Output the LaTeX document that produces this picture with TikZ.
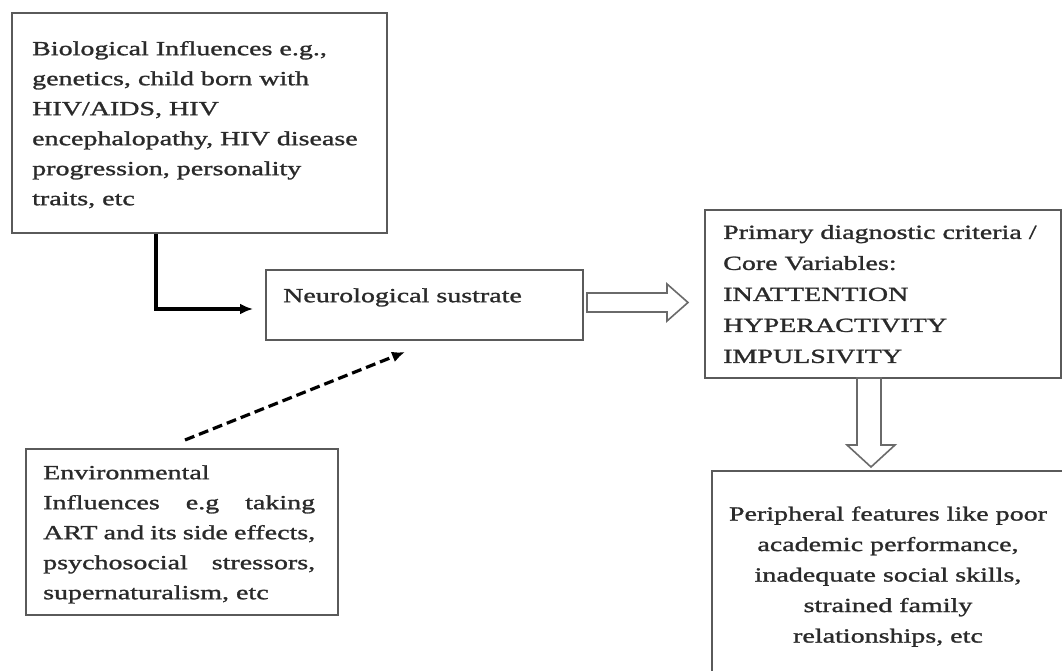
\documentclass[tikz,border=0pt]{standalone}
\usepackage{fontspec}
\setmainfont{Liberation Serif}[FakeStretch=1.4,FakeBold=1.3]
\usetikzlibrary{arrows.meta}
\definecolor{boxgray}{HTML}{5A5A5A}
\definecolor{txtgray}{HTML}{2A2A2A}
\definecolor{arrgray}{HTML}{6A6A6A}
\begin{document}
\begin{tikzpicture}[x=1pt,y=-1pt,
  box/.style={draw=boxgray, line width=2pt, inner sep=0pt, anchor=north west},
  txt/.style={inner sep=0pt, anchor=north west, align=left, text=txtgray,
    font=\fontsize{20}{30}\selectfont},
  conn/.style={line width=3.2pt, black, -{Latex[length=13pt,width=11pt]}},
  hollow/.style={draw=arrgray, line width=1.6pt, fill=white, line join=miter}]
\useasboundingbox (0,0) rectangle (1062,671);
\fill[white] (0,0) rectangle (1062,671);
\clip (0,0) rectangle (1062,671);

% boxes
\node[box, minimum width=375pt, minimum height=220pt] (bio) at (11,12) {};
\node[box, minimum width=317pt, minimum height=70pt] (neuro) at (265,269) {};
\node[box, minimum width=356pt, minimum height=168pt] (prim) at (704,209) {};
\node[box, minimum width=312pt, minimum height=166pt] (env) at (25,448) {};
\node[box, minimum width=400pt, minimum height=260pt] (peri) at (711,470) {};

% texts
\node[txt] (biot) at (32,34) {\strut Biological Influences e.g.,\\
genetics, child born with\\
HIV/AIDS, HIV\\
encephalopathy, HIV disease\\
progression, personality\\
traits, etc};
\node[txt] (neurot) at (283,281) {\strut Neurological sustrate};
\node[txt, font=\fontsize{20}{31}\selectfont] (primt) at (723,217) {\strut Primary diagnostic criteria /\\
Core Variables:\\
INATTENTION\\
HYPERACTIVITY\\
IMPULSIVITY};
\node[txt] (envt) at (43,458) {\strut Environmental\\
\makebox[272pt][s]{Influences e.g taking}\\
\makebox[272pt][s]{ART and its side effects,}\\
\makebox[272pt][s]{psychosocial stressors,}\\
supernaturalism, etc};
\node[txt, anchor=north, align=center, font=\fontsize{20}{30.5}\selectfont] (perit) at (888,499) {\strut Peripheral features like poor\\
academic performance,\\
inadequate social skills,\\
strained family\\
relationships, etc};

% connectors
\coordinate (bend) at (156,309);
\coordinate (etip) at (253,309);
\draw[conn] (bio.south -| bend) -- (bend) -- (etip);

\coordinate (dstart) at (185,440);
\coordinate (dtip) at (405,352);
\draw[conn, dash pattern=on 10pt off 5pt] (dstart) -- (dtip);

% hollow block arrows
\draw[hollow] (587,293) -- (667,293) -- (667,284) -- (688,302.5) -- (667,321) -- (667,312) -- (587,312) -- cycle;
\draw[hollow] (857,378) -- (857,445) -- (847,445) -- (871,467) -- (895,445) -- (881,445) -- (881,378) -- cycle;
\end{tikzpicture}
\end{document}
